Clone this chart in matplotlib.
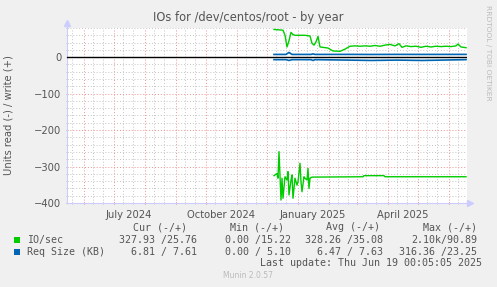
import numpy as np
import matplotlib
matplotlib.use("Agg")
import matplotlib.pyplot as plt
import matplotlib.dates as mdates
from matplotlib.patches import Rectangle

W, H = 497, 287

# IO/sec write (+)
write_dates = ['2024-12-08', '2024-12-17', '2024-12-19', '2024-12-21', '2024-12-23',
               '2024-12-25', '2024-12-27', '2024-12-29', '2025-01-08', '2025-01-13',
               '2025-01-15', '2025-01-17', '2025-01-19', '2025-01-21', '2025-01-23',
               '2025-01-31', '2025-02-05', '2025-02-12', '2025-02-17', '2025-02-22',
               '2025-02-27', '2025-03-04', '2025-03-09', '2025-03-14', '2025-03-19',
               '2025-03-24', '2025-03-29', '2025-04-03', '2025-04-08', '2025-04-12',
               '2025-04-15', '2025-04-19', '2025-04-24', '2025-04-29', '2025-05-04',
               '2025-05-09', '2025-05-14', '2025-05-19', '2025-05-24', '2025-05-29',
               '2025-06-03', '2025-06-08', '2025-06-10', '2025-06-13', '2025-06-18']
write_io = [76, 74, 60, 28, 45, 68, 62, 60, 60, 58,
            38, 33, 42, 57, 28, 25, 17, 16, 22, 30,
            31, 30, 31, 30, 32, 30, 33, 35, 31, 37,
            27, 31, 29, 30, 27, 30, 28, 30, 29, 30,
            29, 31, 36, 28, 26]

# IO/sec read (-)
read_dates = ['2024-12-08', '2024-12-09', '2024-12-11', '2024-12-12', '2024-12-13',
              '2024-12-15', '2024-12-16', '2024-12-17', '2024-12-19', '2024-12-21',
              '2024-12-22', '2024-12-23', '2024-12-25', '2024-12-26', '2024-12-27',
              '2024-12-29', '2024-12-31', '2025-01-01', '2025-01-03', '2025-01-04',
              '2025-01-05', '2025-01-07', '2025-01-08', '2025-01-10', '2025-01-11',
              '2025-01-12', '2025-01-13', '2025-01-15', '2025-03-07', '2025-03-08',
              '2025-03-28', '2025-03-29', '2025-06-18']
read_io = [-325, -323, -319, -332, -259, -392, -332, -387, -328, -337,
           -314, -378, -337, -323, -387, -332, -351, -342, -291, -342,
           -369, -328, -332, -337, -305, -360, -332, -329, -328, -325,
           -325, -328, -328]

# Req Size (KB)
req_dates = ['2024-12-08', '2024-12-20', '2024-12-23', '2024-12-26', '2025-01-14',
             '2025-01-16', '2025-01-18', '2025-02-20', '2025-03-15', '2025-04-10',
             '2025-05-05', '2025-06-18']
req_write = [7.5, 7.5, 13, 7.5, 7.5, 9, 7.5, 7.6, 7.4, 7.6, 7.5, 7.6]
req_read = [-6.8, -6.8, -9, -6.8, -6.8, -9, -6.8, -8, -9, -8, -9, -6.8]

ymin, ymax = -400, 80
x_start, x_end = np.datetime64('2024-05-15'), np.datetime64('2025-06-19')

green = '#00CC00'
blue = '#0066B3'
txt = '#555555'

fig = plt.figure(figsize=(W / 100, H / 100), dpi=100, facecolor='#F0F0F0')
ax = fig.add_axes([67 / W, 1 - 203 / H, 400 / W, 175 / H])
ax.set_facecolor('white')

ax.set_xlim(x_start, x_end)
ax.set_ylim(ymin, ymax)

# grid
ax.set_yticks(np.arange(-400, 1, 100))
ax.set_yticks(np.arange(-400, 81, 20), minor=True)
ax.xaxis.set_major_locator(mdates.MonthLocator())
ax.xaxis.set_minor_locator(mdates.DayLocator(bymonthday=[10, 20]))
ax.grid(which='minor', color='#C4C4C4', linestyle=(0, (1, 2)), linewidth=0.7)
ax.grid(which='major', color='#EE9090', linestyle=(0, (1, 2)), linewidth=0.7)
ax.set_axisbelow(True)

ax.axhline(0, color='black', linewidth=1.0, zorder=3)

ax.plot(np.array(write_dates, dtype='datetime64[D]'), write_io, color=green, lw=1.0, zorder=4)
ax.plot(np.array(read_dates, dtype='datetime64[D]'), read_io, color=green, lw=1.0, zorder=4)
ax.plot(np.array(req_dates, dtype='datetime64[D]'), req_write, color=blue, lw=1.2, zorder=4)
ax.plot(np.array(req_dates, dtype='datetime64[D]'), req_read, color=blue, lw=1.2, zorder=4)

# x labels at mid-month, every 3 months
lab_dates = np.array(['2024-07-16', '2024-10-16', '2025-01-16', '2025-04-16'], dtype='datetime64[D]')
lab_text = ['July 2024', 'October 2024', 'January 2025', 'April 2025']
for d, t in zip(lab_dates, lab_text):
    ax.text(mdates.date2num(d), -0.04, t, transform=ax.get_xaxis_transform(),
            ha='center', va='top', fontsize=7.2, color=txt)
ax.tick_params(axis='x', which='both', labelbottom=False, length=2, direction='inout')
ax.tick_params(axis='x', which='major', color='#E08080')
ax.tick_params(axis='x', which='minor', color='#BBBBBB')
ax.tick_params(axis='y', which='both', length=2, direction='inout', color='#BBBBBB',
               labelsize=7.2, labelcolor=txt, pad=3)

for s in ['top', 'right']:
    ax.spines[s].set_visible(False)
for s in ['left', 'bottom']:
    ax.spines[s].set_color('#CCCCFF')
ax.plot([0], [1.03], marker='^', color='#CCCCFF', markersize=4, transform=ax.transAxes, clip_on=False)
ax.plot([1.008], [0], marker='>', color='#CCCCFF', markersize=4, transform=ax.transAxes, clip_on=False)
ax.plot([0, 0], [1, 1.03], color='#CCCCFF', lw=0.8, transform=ax.transAxes, clip_on=False)
ax.plot([1, 1.008], [0, 0], color='#CCCCFF', lw=0.8, transform=ax.transAxes, clip_on=False)

ax.set_ylabel('Units read (-) / write (+)', fontsize=7.2, color=txt)
ax.yaxis.set_label_coords(-53 / 400, 0.5)

fig.text(248 / W, 1 - 17 / H, 'IOs for /dev/centos/root - by year', ha='center', va='center',
         fontsize=8.3, color=txt)
fig.text(488 / W, 1 - 53 / H, 'RRDTOOL / TOBI OETIKER', rotation=270, ha='center', va='center',
         fontsize=5.4, color='#BBBBBB')

# legend
mono = dict(family='DejaVu Sans Mono', fontsize=7.2, color=txt, va='center')
fig.text(187 / W, 1 - 227 / H, 'Cur (-/+)', ha='right', **mono)
fig.text(284 / W, 1 - 227 / H, 'Min (-/+)', ha='right', **mono)
fig.text(380 / W, 1 - 227 / H, 'Avg (-/+)', ha='right', **mono)
fig.text(477 / W, 1 - 227 / H, 'Max (-/+)', ha='right', **mono)

names = ['IO/sec', 'Req Size (KB)']
colors = [green, blue]
cur = ['327.93 /25.76', '6.81 / 7.61']
mins = ['0.00 /15.22', '0.00 / 5.10']
avgs = ['328.26 /35.08', '6.47 / 7.63']
maxs = ['2.10k/90.89', '316.36 /23.25']
for i in range(2):
    y = 1 - (240 + 12 * i) / H
    fig.add_artist(Rectangle((14 / W, y - 3 / H), 6 / W, 6 / H, transform=fig.transFigure,
                             facecolor=colors[i], edgecolor='none'))
    fig.text(27 / W, y, names[i], ha='left', **mono)
    fig.text(197 / W, y, cur[i], ha='right', **mono)
    fig.text(291 / W, y, mins[i], ha='right', **mono)
    fig.text(383 / W, y, avgs[i], ha='right', **mono)
    fig.text(477 / W, y, maxs[i], ha='right', **mono)

fig.text(482 / W, 1 - 263 / H, 'Last update: Thu Jun 19 00:05:05 2025', ha='right', **mono)
fig.text(248 / W, 1 - 276 / H, 'Munin 2.0.57', ha='center', va='center', fontsize=5.5, color='#BBBBBB')

fig.savefig('out.png', dpi=100, facecolor=fig.get_facecolor())
